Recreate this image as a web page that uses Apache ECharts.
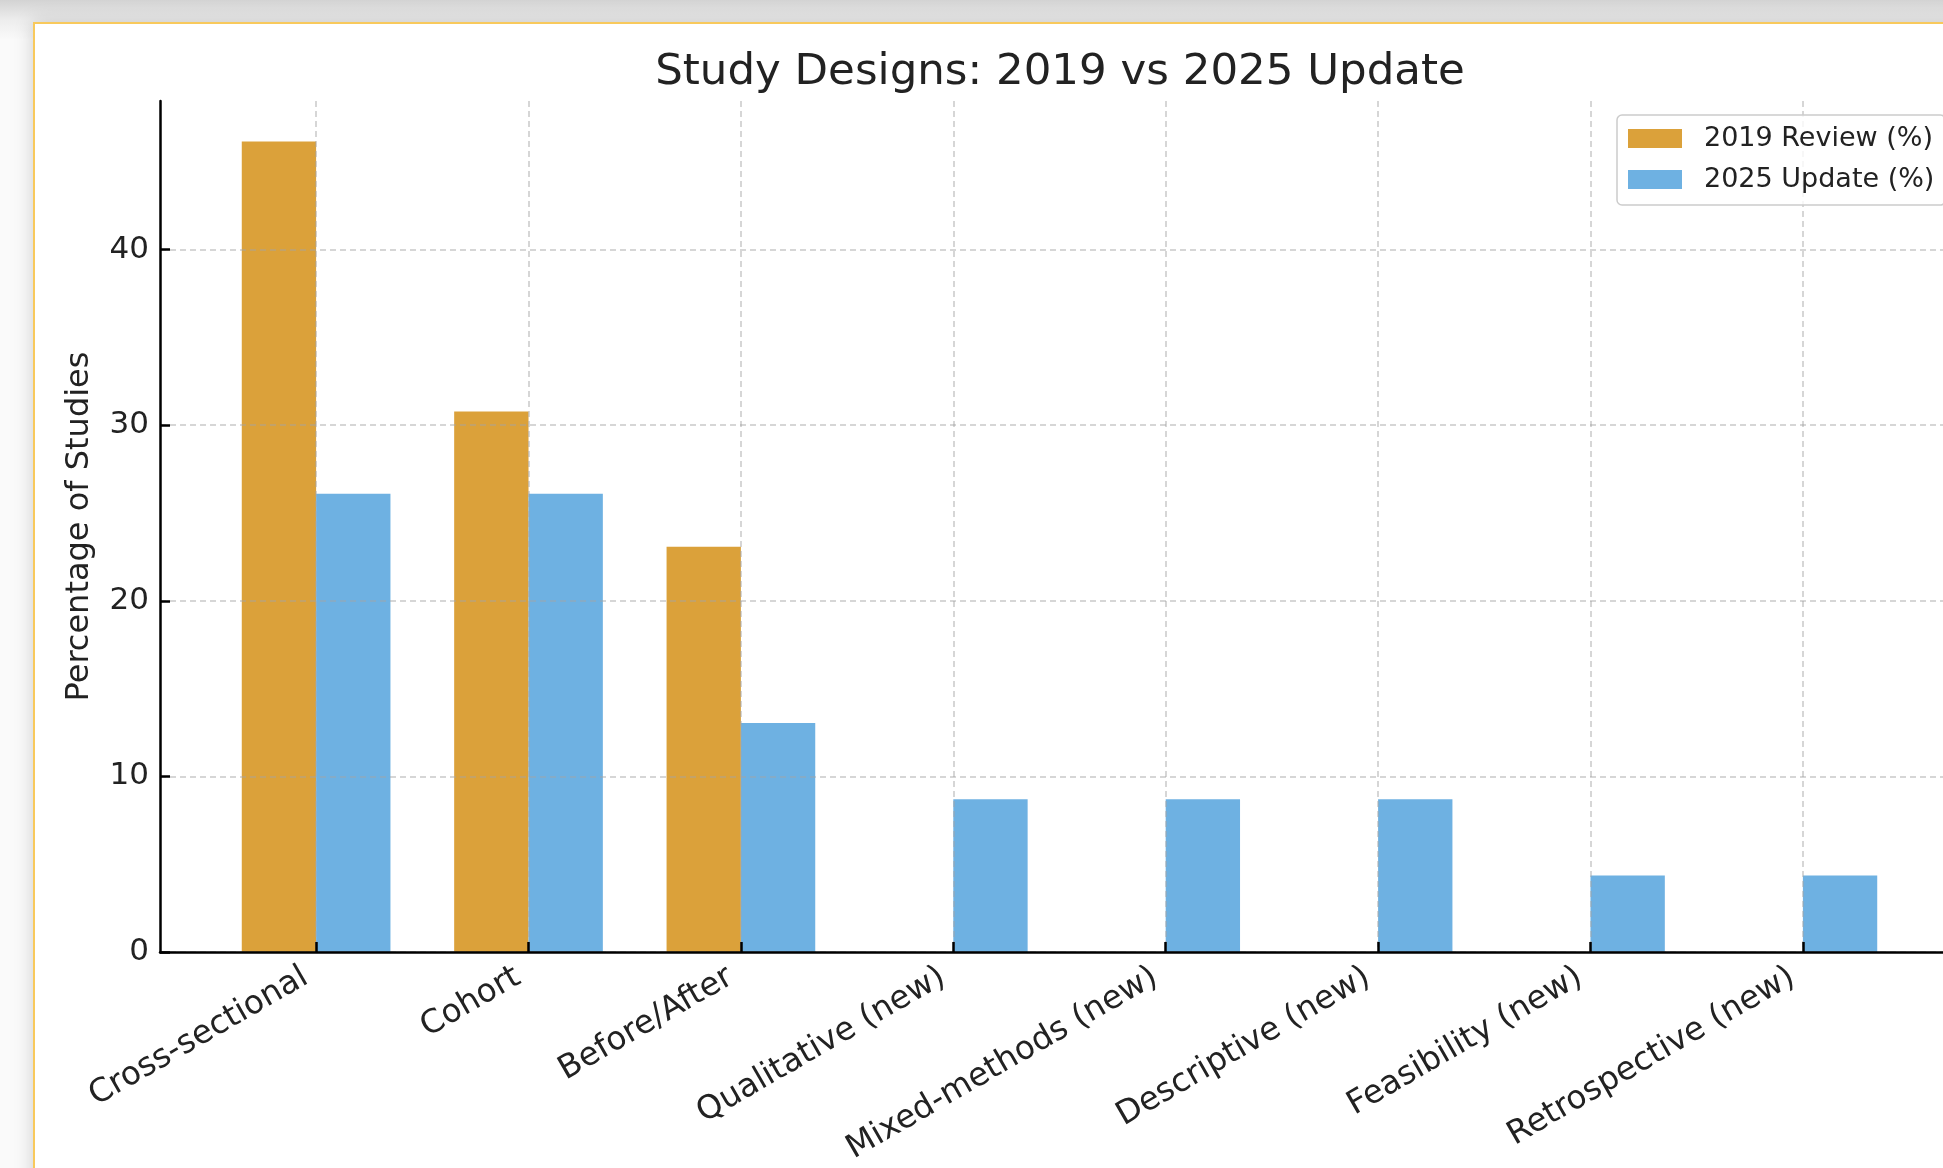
<!DOCTYPE html>
<html>
<head>
<meta charset="utf-8">
<title>Study Designs: 2019 vs 2025 Update</title>
<script src="https://cdn.jsdelivr.net/npm/echarts@6/dist/echarts.min.js"></script>
<style>
  html, body {
    margin: 0;
    padding: 0;
    width: 1943px;
    height: 1168px;
    overflow: hidden;
    background: linear-gradient(#d3d3d3 0px, #ededed 20px, #fafafa 40px);
  }
  #card {
    position: absolute;
    left: 33px;
    top: 22px;
    width: 2000px;
    height: 1300px;
    background: #fff;
    border: 2px solid #f8c95c;
    box-shadow: 0 0 18px rgba(0, 0, 0, 0.18);
  }
  #chart {
    position: absolute;
    left: 0;
    top: 0;
    width: 1943px;
    height: 1168px;
  }
</style>
</head>
<body>
<div id="card"></div>
<div id="chart"></div>
<script>
// data
const categories = ['Cross-sectional', 'Cohort', 'Before/After', 'Qualitative (new)',
  'Mixed-methods (new)', 'Descriptive (new)', 'Feasibility (new)', 'Retrospective (new)']
const review2019 = [46.15, 30.77, 23.08, 0, 0, 0, 0, 0]
const update2025 = [26.09, 26.09, 13.04, 8.70, 8.70, 8.70, 4.35, 4.35]
const yTicks = [0, 10, 20, 30, 40]
const seriesNames = ['2019 Review (%)', '2025 Update (%)']

const font = 'DejaVu Sans'
const textColor = '#222'
const gridColor = 'rgba(165, 165, 165, 0.6)'

// matplotlib style layout: bars 0.35 wide, 5% margins
const barFrac = 0.35
const span = (categories.length - 1) + 2 * barFrac
const xMin = -barFrac - 0.05 * span
const xMax = categories.length - 1 + barFrac + 0.05 * span
const yMax = Math.max(...review2019, ...update2025) * 1.05

const gridLeft = 160
const gridRight = -16
const gridWidth = 1943 - gridLeft - gridRight
const barWidth = barFrac * gridWidth / (xMax - xMin)

const xValues = categories.map((c, i) => i)

const chart = echarts.init(document.getElementById('chart'))

chart.setOption({
  animation: false,
  backgroundColor: 'transparent',
  textStyle: { fontFamily: font },
  title: {
    text: 'Study Designs: 2019 vs 2025 Update',
    left: 1055,
    textAlign: 'center',
    top: 46,
    textStyle: {
      fontFamily: font,
      fontSize: 43.5,
      fontWeight: 'normal',
      color: textColor
    }
  },
  legend: {
    orient: 'vertical',
    left: 1617,
    top: 115,
    z: 10,
    padding: [10, 11, 12, 11],
    itemWidth: 54,
    itemHeight: 19,
    itemGap: 14,
    icon: 'rect',
    backgroundColor: 'rgba(255, 255, 255, 0.8)',
    borderColor: '#cccccc',
    borderWidth: 1.5,
    borderRadius: 5,
    textStyle: {
      fontFamily: font,
      fontSize: 27,
      lineHeight: 27,
      color: textColor,
      padding: [0, 0, 0, 17]
    },
    data: seriesNames
  },
  grid: {
    left: gridLeft,
    right: gridRight,
    top: 101,
    bottom: 216,
    containLabel: false,
    outerBoundsMode: 'none'
  },
  xAxis: {
    type: 'value',
    min: xMin,
    max: xMax,
    z: 5,
    axisLine: {
      show: true,
      onZero: false,
      lineStyle: { color: '#000', width: 2.5 }
    },
    axisTick: {
      show: true,
      inside: true,
      length: 10,
      customValues: xValues,
      lineStyle: { color: '#000', width: 2.5 }
    },
    axisLabel: {
      customValues: xValues,
      formatter: v => categories[Math.round(v)],
      rotate: 30,
      margin: 17,
      padding: [0, 12, 15, 0],
      fontFamily: font,
      fontSize: 32.5,
      color: textColor
    },
    splitLine: {
      show: true,
      lineStyle: { color: gridColor, width: 1.5, type: [6, 4] }
    }
  },
  yAxis: {
    type: 'value',
    min: 0,
    max: yMax,
    z: 5,
    name: 'Percentage of Studies',
    nameLocation: 'middle',
    nameGap: 64,
    nameTextStyle: {
      fontFamily: font,
      fontSize: 32,
      color: textColor
    },
    axisLine: {
      show: true,
      onZero: false,
      lineStyle: { color: '#000', width: 2.5 }
    },
    axisTick: {
      show: true,
      inside: true,
      length: 10,
      customValues: yTicks,
      lineStyle: { color: '#000', width: 2.5 }
    },
    axisLabel: {
      customValues: yTicks,
      margin: 11,
      fontFamily: font,
      fontSize: 31,
      color: textColor
    },
    splitLine: {
      show: true,
      lineStyle: { color: gridColor, width: 1.5, type: [6, 4] }
    }
  },
  series: [{
    name: seriesNames[0],
    type: 'bar',
    z: 2,
    barWidth: barWidth,
    barGap: '0%',
    itemStyle: { color: '#dba13a' },
    data: review2019.map((v, i) => [i, v])
  }, {
    name: seriesNames[1],
    type: 'bar',
    z: 2,
    barWidth: barWidth,
    barGap: '0%',
    itemStyle: { color: '#6eb1e2' },
    data: update2025.map((v, i) => [i, v])
  }]
})
</script>
</body>
</html>
